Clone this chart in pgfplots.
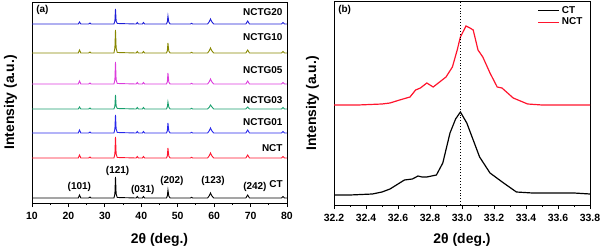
\documentclass[border=0pt]{standalone}
\usepackage{fontspec}
\setmainfont{Liberation Sans}
\usepackage{pgfplots}
\pgfplotsset{compat=1.18}
\usepackage{pgfplotstable}
\definecolor{cblue}{RGB}{30,30,215}
\definecolor{colive}{RGB}{135,135,0}
\definecolor{cmag}{RGB}{220,60,220}
\definecolor{cteal}{RGB}{25,160,110}
\definecolor{cblue2}{RGB}{40,40,235}
\definecolor{cred}{RGB}{255,20,45}
\pgfplotstableread{
x      CT   NCT  G01  G03  G05  G10  G20
10     5    45   70   94   119  150  179
22.7   5    45   70   94   119  150  179
23.05  8    48   73   96   122  153  181
23.4   5    45   70   94   119  150  179
25.6   5    45   70   94   119  150  179
25.9   6    46   71   95   120  151  180
26.2   5    45   70   94   119  150  179
32.5   5    45   70   94   119  150  179
32.75  9    49   74   97   123  155  182
32.92  26   66   88   108  141  173  194
33.1   9    49   74   97   123  155  182
33.4   5.5  45.5 70.5 94.5 119.5 150.5 179.5
38.6   5    45   70   94   119  150  179
38.9   6.5  46.5 71.5 95.5 120.5 151.5 180.5
39.2   5    45   70   94   119  150  179
40.3   5    45   70   94   119  150  179
40.6   6.5  46.5 71.5 95.5 120.5 151.5 180.5
40.9   5    45   70   94   119  150  179
46.9   5    45   70   94   119  150  179
47.15  7    47   72   96   121  152  181
47.32  13   55   80   101  130  160  187
47.55  7    47   72   96   121  152  181
47.9   5    45   70   94   119  150  179
53.5   5    45   70   94   119  150  179
53.8   5.7  45.7 70.7 94.7 119.7 150.7 179.7
54.1   5    45   70   94   119  150  179
58.2   5    45   70   94   119  150  179
58.7   7.5  47.5 72.5 96   121.5 152.5 181.5
59.0   10   50   75   98   124  155  184
59.4   7    47   72   96   121  152  181
59.9   5    45   70   94   119  150  179
68.7   5    45   70   94   119  150  179
69.2   8    48   73   96   122  153  182
69.7   5    45   70   94   119  150  179
78.5   5    45   70   94   119  150  179
78.9   6.5  46.5 71.5 95.5 120.5 151.5 180.5
79.3   5    45   70   94   119  150  179
80     5    45   70   94   119  150  179
}\xrd
\pgfplotstableread{
x     y
32.20 10
32.30 10
32.44 11
32.50 13
32.55 16
32.60 21
32.64 25
32.69 26
32.725 29
32.75 28
32.78 28
32.84 30
32.88 42
32.925 72
32.96 86
32.99 93
33.03 82
33.07 65
33.11 48
33.175 32
33.26 22
33.34 13
33.44 12
33.61 12
33.70 12
33.80 11
}\ctb
\pgfplotstableread{
x     y
32.20 100
32.35 100
32.50 101
32.55 102
32.61 105
32.675 108
32.71 115
32.74 117
32.78 122
32.82 118
32.86 123
32.90 128
32.94 138
32.97 155
32.99 168
33.025 179
33.05 177
33.07 175
33.10 155
33.13 148
33.175 132
33.22 118
33.25 117
33.32 107
33.41 101
33.50 100
33.61 100
33.80 100
}\nctb
\begin{document}
\begin{tikzpicture}
\useasboundingbox (0,0) rectangle (602bp,250bp);
\pgfplotsset{
  every axis/.append style={
    scale only axis,
    line width=1pt,
    tick align=outside,
    xtick pos=bottom,
    ytick=\empty,
    major tick length=4bp,
    minor tick length=2.2bp,
    tick style={line width=0.9pt,black},
    tick label style={font=\fontsize{10.5}{12}\selectfont\bfseries},
    xticklabel style={yshift=-1.5bp},
    label style={font=\fontsize{14}{16}\selectfont\bfseries},
    /pgf/number format/assume math mode=true,
    clip=true,
  },
}
\begin{axis}[
  at={(32bp,47bp)}, anchor=south west,
  width=255bp, height=201bp,
  xmin=10, xmax=80, ymin=0, ymax=201,
  xtick={10,20,...,80}, minor x tick num=1,
  xlabel={2θ (deg.)},
  ylabel={Intensity (a.u.)},
  xlabel style={at={(axis description cs:0.5,-0.184)}, anchor=center},
  ylabel style={at={(axis description cs:-0.084,0.5)}, anchor=center, rotate=0},
]
\addplot[black, line width=0.9pt] table[x=x,y=CT] {\xrd};
\addplot[cred, line width=0.9pt] table[x=x,y=NCT] {\xrd};
\addplot[cblue2, line width=0.9pt] table[x=x,y=G01] {\xrd};
\addplot[cteal, line width=0.9pt] table[x=x,y=G03] {\xrd};
\addplot[cmag, line width=0.9pt] table[x=x,y=G05] {\xrd};
\addplot[colive, line width=0.9pt] table[x=x,y=G10] {\xrd};
\addplot[cblue, line width=0.9pt] table[x=x,y=G20] {\xrd};
\begin{scope}[every node/.style={font=\fontsize{10}{12}\selectfont\bfseries, inner sep=0pt}]
\node[anchor=east] at (axis cs:78.9,191) {NCTG20};
\node[anchor=east] at (axis cs:78.9,166) {NCTG10};
\node[anchor=east] at (axis cs:78.9,133) {NCTG05};
\node[anchor=east] at (axis cs:78.9,103) {NCTG03};
\node[anchor=east] at (axis cs:78.9,81) {NCTG01};
\node[anchor=east] at (axis cs:78.9,55) {NCT};
\node at (axis cs:77,19) {CT};
\node at (axis cs:23,16) {(101)};
\node at (axis cs:33.5,32) {(121)};
\node at (axis cs:40.4,13) {(031)};
\node at (axis cs:48.4,22) {(202)};
\node at (axis cs:59.7,22) {(123)};
\node at (axis cs:71.2,16) {(242)};
\node[anchor=north west] at (axis description cs:0.015,0.985) {(a)};
\end{scope}
\end{axis}
\begin{axis}[
  at={(334bp,45bp)}, anchor=south west,
  width=256bp, height=203bp,
  xmin=32.2, xmax=33.8, ymin=0, ymax=203,
  xtick={32.2,32.4,...,33.81}, minor x tick num=1,
  xticklabel style={/pgf/number format/fixed, /pgf/number format/fixed zerofill, /pgf/number format/precision=1},
  xlabel={2θ (deg.)},
  ylabel={Intensity (a.u.)},
  xlabel style={at={(axis description cs:0.5,-0.172)}, anchor=center},
  ylabel style={at={(axis description cs:-0.084,0.5)}, anchor=center, rotate=0},
  legend style={at={(axis description cs:0.79,0.995)}, anchor=north west, draw=none, fill=none,
    font=\fontsize{10}{12}\selectfont\bfseries, row sep=-1bp, inner sep=1bp},
  legend cell align=left,
  legend image code/.code={\draw[#1] (0bp,0bp) -- (21bp,0bp);},
]
\addplot[black, line width=1.2pt] table {\ctb};
\addlegendentry{CT}
\addplot[cred, line width=1.2pt] table {\nctb};
\addlegendentry{NCT}
\addplot[black, dotted, line width=0.9pt, forget plot] coordinates {(32.99,0) (32.99,203)};
\node[anchor=north west, inner sep=0pt, font=\fontsize{10}{12}\selectfont\bfseries] at (axis description cs:0.015,0.985) {(b)};
\end{axis}
\end{tikzpicture}
\end{document}
